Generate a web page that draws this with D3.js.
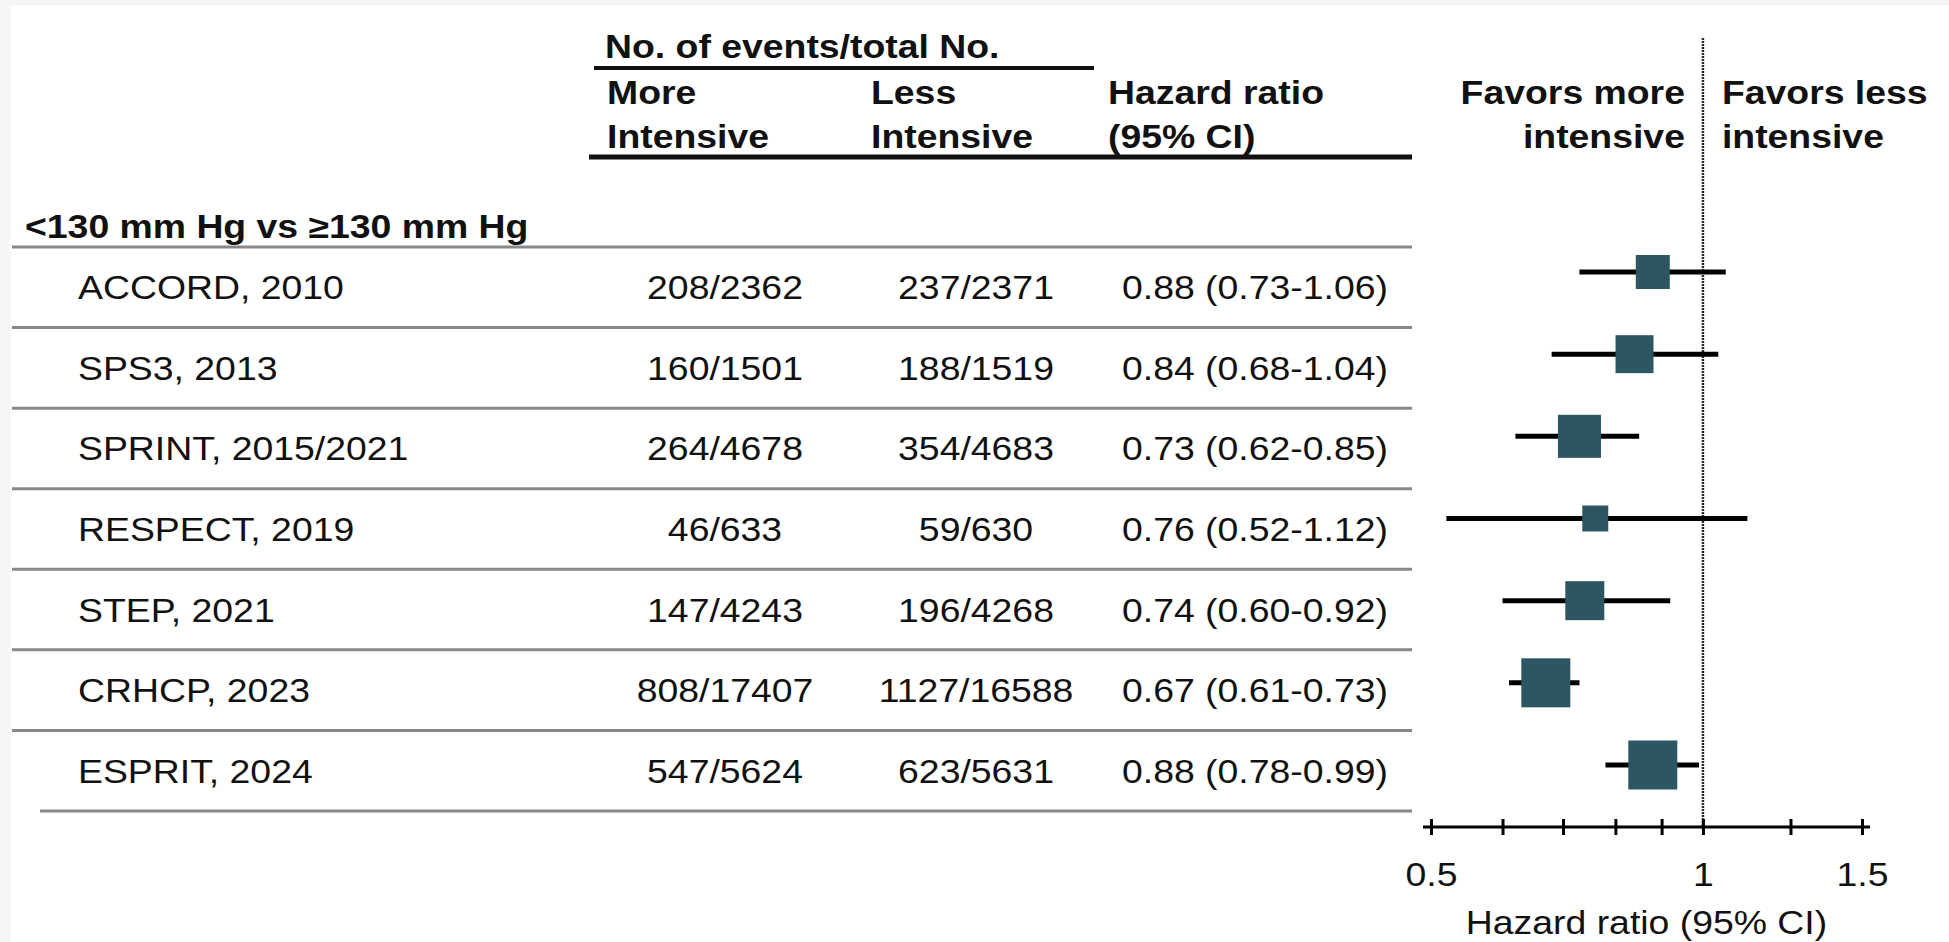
<!DOCTYPE html>
<html>
<head>
<meta charset="utf-8">
<script src="https://cdn.jsdelivr.net/npm/d3@7"></script>
<style>
  html, body { margin: 0; padding: 0; background: #fff; }
  svg { display: block; }
  text { font-family: "Liberation Sans", Arial, Helvetica, sans-serif; fill: #111; }
</style>
</head>
<body>
<svg id="chart" width="1949" height="942"></svg>
<script>
// ---- data ----
const groupLabel = "<130 mm Hg vs \u2265130 mm Hg";
const studies = ["ACCORD, 2010", "SPS3, 2013", "SPRINT, 2015/2021", "RESPECT, 2019",
                 "STEP, 2021", "CRHCP, 2023", "ESPRIT, 2024"];
const moreEvents = [208, 160, 264, 46, 147, 808, 547];
const moreTotal  = [2362, 1501, 4678, 633, 4243, 17407, 5624];
const lessEvents = [237, 188, 354, 59, 196, 1127, 623];
const lessTotal  = [2371, 1519, 4683, 630, 4268, 16588, 5631];
const hr   = [0.88, 0.84, 0.73, 0.76, 0.74, 0.67, 0.88];
const hrLo = [0.73, 0.68, 0.62, 0.52, 0.60, 0.61, 0.78];
const hrHi = [1.06, 1.04, 0.85, 1.12, 0.92, 0.73, 0.99];
// relative study weights (%), shown by marker area
const weights = [10.1, 12.6, 16.2, 5.9, 13.3, 21.0, 21.0];
const axisTicks = [0.5, 0.6, 0.7, 0.8, 0.9, 1, 1.25, 1.5];
const axisTickLabels = ["0.5", "", "", "", "", "1", "", "1.5"];
const headerEvents = "No. of events/total No.";
const headerMore = ["More", "Intensive"];
const headerLess = ["Less", "Intensive"];
const headerHR = ["Hazard ratio", "(95% CI)"];
const favorsMore = ["Favors more", "intensive"];
const favorsLess = ["Favors less", "intensive"];
const axisTitle = "Hazard ratio (95% CI)";

// ---- layout ----
const FS = 32.5;      // font size
const SX = 1.15;      // horizontal glyph stretch
const svg = d3.select("#chart");
const boxColor = "#2d5663";

const rows = studies.map((s, i) => ({
  study: s,
  more: `${moreEvents[i]}/${moreTotal[i]}`,
  less: `${lessEvents[i]}/${lessTotal[i]}`,
  hr: hr[i], lo: hrLo[i], hi: hrHi[i], w: weights[i],
  label: `${hr[i].toFixed(2)} (${hrLo[i].toFixed(2)}-${hrHi[i].toFixed(2)})`
}));

function txt(sel, x, y, s, opt = {}) {
  return sel.append("text")
    .attr("transform", `translate(${x},${y}) scale(${SX},1)`)
    .attr("text-anchor", opt.anchor || "start")
    .attr("font-size", FS)
    .attr("font-weight", opt.bold ? "bold" : "normal")
    .text(s);
}

// page edge tint
svg.append("rect").attr("x", 0).attr("y", 0).attr("width", 1949).attr("height", 5).attr("fill", "#f4f4f4");
svg.append("rect").attr("x", 0).attr("y", 0).attr("width", 11).attr("height", 942).attr("fill", "#f6f6f6");

// ---- table ----
const table = svg.append("g");
const colMore = 725, colLess = 976, colHR = 1122;
const tableLeft = 12, tableRight = 1412;

txt(table, 605, 58, headerEvents, { bold: true });
table.append("line").attr("x1", 594).attr("x2", 1094).attr("y1", 68).attr("y2", 68)
  .attr("stroke", "#111").attr("stroke-width", 4);
[[607, headerMore], [871, headerLess], [1108, headerHR]].forEach(([x, lines]) => {
  lines.forEach((l, k) => txt(table, x, 104 + k * 44, l, { bold: true }));
});
table.append("line").attr("x1", 589).attr("x2", tableRight).attr("y1", 157).attr("y2", 157)
  .attr("stroke", "#111").attr("stroke-width", 5);

txt(table, 25, 238, groupLabel, { bold: true });

const yRow = d3.scaleBand().domain(studies).range([247, 811]);
const bw = yRow.bandwidth();

table.append("line").attr("x1", tableLeft).attr("x2", tableRight)
  .attr("y1", yRow.range()[0]).attr("y2", yRow.range()[0])
  .attr("stroke", "#888").attr("stroke-width", 3);

const rowG = table.selectAll("g.row").data(rows).join("g").attr("class", "row");
rowG.each(function (d, i) {
  const g = d3.select(this);
  const cy = yRow(d.study) + bw / 2 + 12;
  txt(g, 78, cy, d.study);
  txt(g, colMore, cy, d.more, { anchor: "middle" });
  txt(g, colLess, cy, d.less, { anchor: "middle" });
  txt(g, colHR, cy, d.label);
  const ly = yRow(d.study) + bw;
  g.append("line")
    .attr("x1", i === rows.length - 1 ? 40 : tableLeft).attr("x2", tableRight)
    .attr("y1", ly).attr("y2", ly)
    .attr("stroke", "#888").attr("stroke-width", 3);
});

// ---- forest plot ----
const x = d3.scaleLog().domain([0.5, 1.5]).range([1431, 1862]);
const yPlot = d3.scalePoint().domain(studies).range([272, 765]);
const side = d3.scaleSqrt().domain([0, 21]).range([0, 49]);
const axisY = 827;

const plot = svg.append("g");

// line of no effect
plot.append("line")
  .attr("x1", x(1)).attr("x2", x(1)).attr("y1", 38).attr("y2", axisY)
  .attr("stroke", "#2a2a2a").attr("stroke-width", 2.5).attr("stroke-dasharray", "2,1");

txt(plot, x(1) - 18, 104, favorsMore[0], { bold: true, anchor: "end" });
txt(plot, x(1) - 18, 148, favorsMore[1], { bold: true, anchor: "end" });
txt(plot, x(1) + 19, 104, favorsLess[0], { bold: true });
txt(plot, x(1) + 19, 148, favorsLess[1], { bold: true });

const mk = plot.selectAll("g.est").data(rows).join("g").attr("class", "est");
mk.append("line")
  .attr("x1", d => x(d.lo)).attr("x2", d => x(d.hi))
  .attr("y1", d => yPlot(d.study)).attr("y2", d => yPlot(d.study))
  .attr("stroke", "#000").attr("stroke-width", 5);
mk.append("rect")
  .attr("x", d => x(d.hr) - side(d.w) / 2)
  .attr("y", d => yPlot(d.study) - side(d.w) / 2)
  .attr("width", d => side(d.w)).attr("height", d => side(d.w))
  .attr("fill", boxColor);

// axis
const axis = d3.axisBottom(x)
  .tickValues(axisTicks)
  .tickSizeInner(16).tickSizeOuter(0)
  .tickFormat((d, i) => axisTickLabels[i]);
const ag = plot.append("g").attr("transform", `translate(0,${axisY})`).call(axis);
ag.select(".domain").remove();
ag.selectAll(".tick line").attr("y1", -8).attr("y2", 8).attr("stroke", "#000").attr("stroke-width", 3);
ag.selectAll(".tick text")
  .attr("y", null).attr("dy", null)
  .attr("transform", `translate(0,59) scale(${SX},1)`)
  .attr("font-size", FS).attr("fill", "#111")
  .attr("font-family", "Liberation Sans, Arial, sans-serif");
ag.append("line")
  .attr("x1", x(0.5) - 8).attr("x2", x(1.5) + 8).attr("y1", 0).attr("y2", 0)
  .attr("stroke", "#000").attr("stroke-width", 3);

txt(plot, (x(0.5) + x(1.5)) / 2, 934, axisTitle, { anchor: "middle" });
</script>
</body>
</html>
